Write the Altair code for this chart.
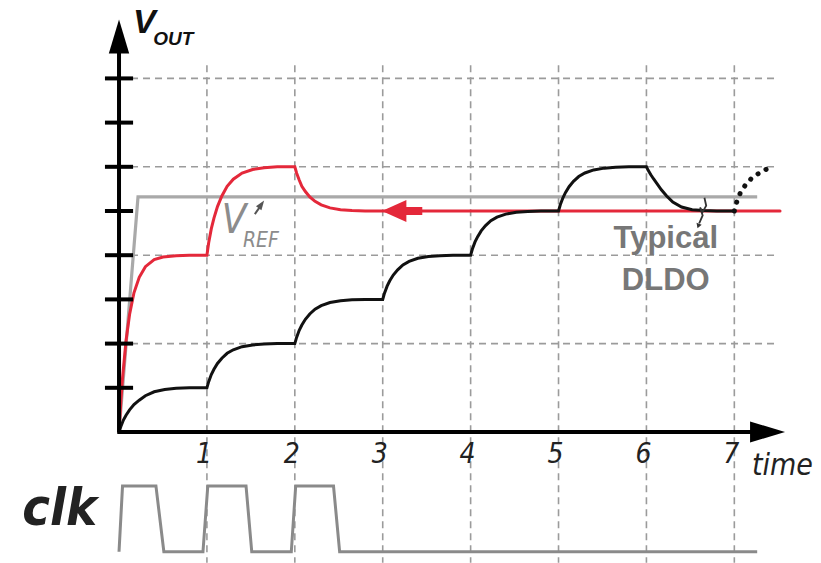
import altair as alt
import pandas as pd

# ---------------- data ----------------
grid_t = [1, 2, 3, 4, 5, 6, 7]                 # vertical dashed grid / time ticks
tick_labels = ["1", "2", "3", "4", "5", "6", "7"]
ytick_levels = [1, 2, 3, 4, 5, 6, 7, 8]        # tick marks on the V_OUT axis
hgrid_levels = [2, 4, 6, 8]                    # horizontal dashed grid

# Typical DLDO (black), one LSB step per clock edge
black_t = [0.00, 0.02, 0.05, 0.08, 0.12, 0.17, 0.23, 0.30, 0.40, 0.52, 0.65, 0.80,
           1.00, 1.02, 1.05, 1.08, 1.12, 1.17, 1.23, 1.30, 1.40, 1.52, 1.65, 1.80,
           2.00, 2.02, 2.05, 2.08, 2.12, 2.17, 2.23, 2.30, 2.40, 2.52, 2.65, 2.80,
           3.00, 3.02, 3.05, 3.08, 3.12, 3.17, 3.23, 3.30, 3.40, 3.52, 3.65, 3.80,
           4.00, 4.02, 4.05, 4.08, 4.12, 4.17, 4.23, 4.30, 4.40, 4.52, 4.65, 4.80,
           5.00, 5.02, 5.05, 5.08, 5.12, 5.17, 5.23, 5.30, 5.40, 5.52, 5.65, 5.80,
           6.00, 6.02, 6.05, 6.08, 6.12, 6.17, 6.23, 6.30, 6.40, 6.52, 6.65, 6.80,
           7.00]
black_v = [0.00, 0.12, 0.27, 0.38, 0.50, 0.62, 0.72, 0.82, 0.91, 0.96, 0.99, 1.00,
           1.00, 1.14, 1.30, 1.42, 1.55, 1.67, 1.78, 1.86, 1.93, 1.97, 1.99, 2.00,
           2.00, 2.14, 2.30, 2.42, 2.55, 2.67, 2.78, 2.86, 2.93, 2.97, 2.99, 3.00,
           3.00, 3.14, 3.30, 3.42, 3.55, 3.67, 3.78, 3.86, 3.93, 3.97, 3.99, 4.00,
           4.00, 4.14, 4.30, 4.42, 4.55, 4.67, 4.78, 4.86, 4.93, 4.97, 4.99, 5.00,
           5.00, 5.14, 5.30, 5.42, 5.55, 5.67, 5.78, 5.86, 5.93, 5.97, 5.99, 6.00,
           6.00, 5.92, 5.82, 5.73, 5.62, 5.48, 5.34, 5.20, 5.09, 5.03, 5.01, 5.00,
           5.00]
# dotted continuation (limit cycle) after t = 7
dot_t = [7.00, 7.03, 7.07, 7.13, 7.21, 7.31, 7.42]
dot_v = [5.00, 5.22, 5.42, 5.60, 5.77, 5.89, 6.00]

# proposed (red) response
red_t = [0.00, 0.02, 0.04, 0.08, 0.12, 0.17, 0.23, 0.30, 0.40, 0.50, 0.65, 0.80,
         1.00, 1.02, 1.05, 1.08, 1.12, 1.17, 1.23, 1.30, 1.40, 1.52, 1.65, 1.80,
         2.00, 2.02, 2.05, 2.08, 2.12, 2.17, 2.23, 2.30, 2.40, 2.52, 2.65, 2.80,
         7.52]
red_v = [0.00, 0.67, 1.22, 2.07, 2.66, 3.15, 3.50, 3.74, 3.90, 3.96, 3.99, 4.00,
         4.00, 4.28, 4.60, 4.84, 5.10, 5.34, 5.56, 5.72, 5.86, 5.94, 5.98, 6.00,
         6.00, 5.86, 5.70, 5.56, 5.44, 5.32, 5.22, 5.14, 5.07, 5.03, 5.01, 5.00,
         5.00]

# V_REF (grey)
vref_t = [0.00, 0.216, 7.26]
vref_v = [0.00, 5.32, 5.32]

# clock (logic level 0/1)
clk_t = [0.00, 0.04, 0.42, 0.51, 0.955, 1.01, 1.445, 1.51, 1.96, 2.01, 2.44, 2.51, 7.26]
clk_b = [0, 1, 1, 0, 0, 1, 1, 0, 0, 1, 1, 0, 0]

# ---------------- layout helpers ----------------
X_DOM = [-1.354, 7.986]
Y_DOM = [-2.964, 9.774]
CLK_LOW, CLK_HIGH = -2.71, -1.22
XS = alt.Scale(domain=X_DOM, nice=False, zero=False)
YS = alt.Scale(domain=Y_DOM, nice=False, zero=False)

NARROW = "Liberation Sans Narrow, DejaVu Sans Condensed, Liberation Sans, Arial, sans-serif"
SANS = "Liberation Sans, Arial, sans-serif"
RED = "#e4283a"
GRID = "#9b9b9b"


def ex(f):
    return alt.X(f, type="quantitative", scale=XS, axis=None)


def ey(f):
    return alt.Y(f, type="quantitative", scale=YS, axis=None)


def line_df(ts, vs):
    return pd.DataFrame({"t": ts, "v": vs, "i": list(range(len(ts)))})


def line(ts, vs, **kw):
    return alt.Chart(line_df(ts, vs)).mark_line(**kw).encode(
        x=ex("t"), y=ey("v"), order=alt.Order("i:Q"))


def txt(s, t, v, **kw):
    return alt.Chart(pd.DataFrame({"t": [t], "v": [v], "s": [s]})).mark_text(**kw).encode(
        x=ex("t"), y=ey("v"), text="s:N")


# grid
vgrid = alt.Chart(pd.DataFrame({"t": grid_t, "y0": 8.3, "y1": -2.96})).mark_rule(
    color=GRID, strokeDash=[7, 5], strokeWidth=1.6).encode(x=ex("t"), y=ey("y0"), y2="y1")
hgrid = alt.Chart(pd.DataFrame({"v": hgrid_levels, "t0": 0.0, "t1": 7.5})).mark_rule(
    color=GRID, strokeDash=[7, 5], strokeWidth=1.6).encode(x=ex("t0"), x2="t1", y=ey("v"))

# clock
clk_v = [CLK_LOW + b * (CLK_HIGH - CLK_LOW) for b in clk_b]
clk = line(clk_t, clk_v, color="#8a8a8a", strokeWidth=3, strokeJoin="miter")

vref = line(vref_t, vref_v, color="#a9a9a9", strokeWidth=3.2)
red = line(red_t, red_v, color=RED, strokeWidth=3, strokeCap="round")
red_shaft = alt.Chart(pd.DataFrame({"t0": [3.2], "t1": [3.45], "v": [5.0]})).mark_rule(
    color=RED, strokeWidth=8).encode(x=ex("t0"), x2="t1", y=ey("v"))
red_head = alt.Chart(pd.DataFrame({"t": [3.13], "v": [5.0]})).mark_point(
    shape="M-1,0 L1,-0.9 L1,0.9 Z", size=600, filled=True, color=RED, opacity=1).encode(
    x=ex("t"), y=ey("v"))

black = line(black_t, black_v, color="#111111", strokeWidth=3, strokeCap="round")
dotted = line(dot_t, dot_v, color="#111111", strokeWidth=5, strokeDash=[0.1, 9],
              strokeCap="round")

# axes
yaxis = alt.Chart(pd.DataFrame({"t": [0.0], "v0": [0.0], "v1": [8.6]})).mark_rule(
    color="black", strokeWidth=4).encode(x=ex("t"), y=ey("v0"), y2="v1")
xaxis = alt.Chart(pd.DataFrame({"t0": [-0.02], "t1": [7.2], "v": [0.0]})).mark_rule(
    color="black", strokeWidth=4).encode(x=ex("t0"), x2="t1", y=ey("v"))
yticks = alt.Chart(pd.DataFrame({"v": ytick_levels, "t0": -0.16, "t1": 0.16})).mark_rule(
    color="black", strokeWidth=4).encode(x=ex("t0"), x2="t1", y=ey("v"))
yhead = alt.Chart(pd.DataFrame({"t": [0.0], "v": [8.95]})).mark_point(
    shape="M0,-1 L0.6,1 L-0.6,1 Z", size=1156, filled=True, color="black", opacity=1).encode(
    x=ex("t"), y=ey("v"))
xhead = alt.Chart(pd.DataFrame({"t": [7.378], "v": [0.0]})).mark_point(
    shape="M1,0 L-1,-0.6 L-1,0.6 Z", size=1225, filled=True, color="black", opacity=1).encode(
    x=ex("t"), y=ey("v"))

# small pointer arrows
vref_ptr = line([1.545, 1.605], [4.93, 5.10], color="#555555", strokeWidth=2)
vref_ptr_head = alt.Chart(pd.DataFrame({"t": [1.62], "v": [5.15]})).mark_point(
    shape="M0,-1 L0.7,1 L-0.7,1 Z", size=90, angle=35, filled=True, color="#555555",
    opacity=1).encode(x=ex("t"), y=ey("v"))
curl = line([6.66, 6.68, 6.64, 6.61, 6.64, 6.60],
            [5.30, 5.12, 4.98, 5.08, 4.90, 4.72], color="#333333", strokeWidth=1.8)
curl_head = alt.Chart(pd.DataFrame({"t": [6.59], "v": [4.66]})).mark_point(
    shape="triangle-down", size=30, angle=20, filled=True, color="#333333", opacity=1).encode(
    x=ex("t"), y=ey("v"))

# texts
ticks_txt = alt.Chart(pd.DataFrame({"t": grid_t, "s": tick_labels, "v": -0.70})).mark_text(
    font=NARROW, fontSize=28, fontStyle="italic", color="#222222", baseline="alphabetic",
    dx=-3).encode(x=ex("t"), y=ey("v"), text="s:N")

texts = [
    txt("V", 0.16, 9.03, font=SANS, fontSize=34, fontStyle="italic", fontWeight="bold",
        align="left", baseline="alphabetic", color="#111111"),
    txt("OUT", 0.39, 8.76, font=SANS, fontSize=19, fontStyle="italic", fontWeight="bold",
        align="left", baseline="alphabetic", color="#111111"),
    txt("V", 1.17, 4.50, font=NARROW, fontSize=40, fontStyle="italic",
        align="left", baseline="alphabetic", color="#8c8c8c"),
    txt("REF", 1.41, 4.19, font=NARROW, fontSize=21, fontStyle="italic",
        align="left", baseline="alphabetic", color="#8c8c8c"),
    txt("Typical", 6.22, 4.16, font=SANS, fontSize=31, fontWeight="bold",
        align="center", baseline="alphabetic", color="#777777"),
    txt("DLDO", 6.22, 3.21, font=SANS, fontSize=31, fontWeight="bold",
        align="center", baseline="alphabetic", color="#777777"),
    txt("time", 7.20, -0.97, font=NARROW, fontSize=30, fontStyle="italic",
        align="left", baseline="alphabetic", color="#222222"),
    txt("clk", -1.10, -2.10, font=NARROW, fontSize=52, fontStyle="italic", fontWeight="bold",
        align="left", baseline="alphabetic", color="#222222"),
]

chart = alt.layer(
    vgrid, hgrid, clk, vref, red, red_shaft, red_head, black, dotted,
    yaxis, xaxis, yticks, yhead, xhead,
    vref_ptr, vref_ptr_head, curl, curl_head,
    ticks_txt, *texts
).properties(
    width=821, height=563,
    autosize=alt.AutoSizeParams(type="none"),
    padding=0,
    background="white",
).configure_view(stroke=None)

chart.save("out.html", embed_options={"renderer": "svg", "actions": False})
